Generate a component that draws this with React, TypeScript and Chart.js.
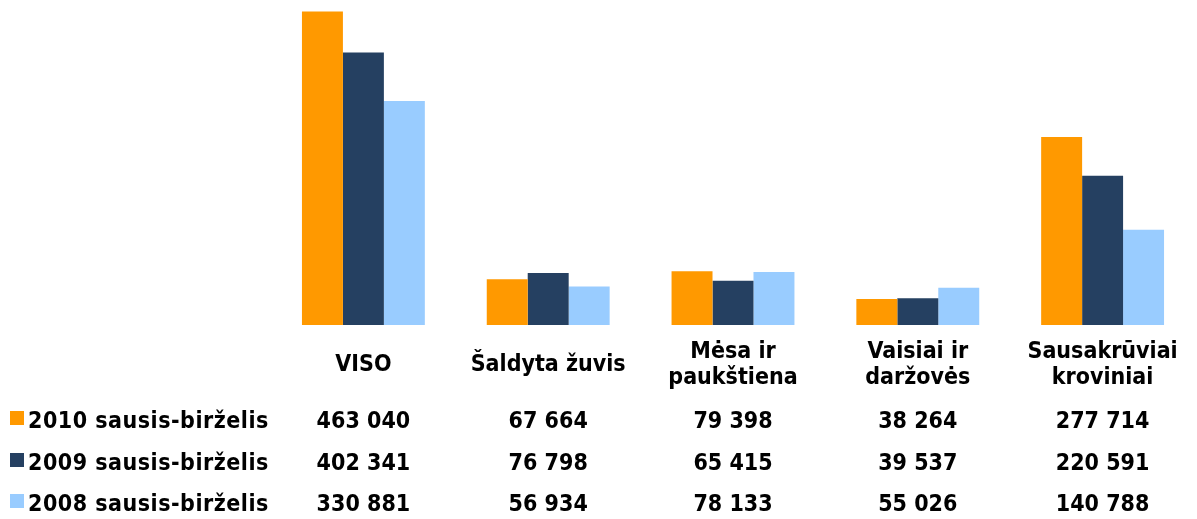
import React, { useEffect, useRef } from "react";
import { Chart, registerables } from "chart.js";

Chart.register(...registerables);

const categories: (string | string[])[] = [
  "VISO",
  "Šaldyta žuvis",
  ["Mėsa ir", "paukštiena"],
  ["Vaisiai ir", "daržovės"],
  ["Sausakrūviai", "kroviniai"],
];
const seriesNames = ["2010 sausis-birželis", "2009 sausis-birželis", "2008 sausis-birželis"];
const s2010 = [463040, 67664, 79398, 38264, 277714];
const s2009 = [402341, 76798, 65415, 39537, 220591];
const s2008 = [330881, 56934, 78133, 55026, 140788];
const colors = ["#FF9900", "#254061", "#99CCFF"];

const FONT = 'bold 23px "DejaVu Sans Condensed", "DejaVu Sans", sans-serif';

const fmt = (n: number) => n.toString().replace(/\B(?=(\d{3})+(?!\d))/g, " ");

const tablePlugin = {
  id: "dataTable",
  afterDraw(chart: any) {
    const ctx = chart.ctx as any;
    const xs = chart.scales.x;
    const series = [s2010, s2009, s2008];
    ctx.save();
    ctx.font = FONT;
    ctx.fillStyle = "#000";
    ctx.textBaseline = "middle";
    ctx.textAlign = "center";
    categories.forEach((c, i) => {
      const x = xs.getPixelForValue(i);
      if (Array.isArray(c)) {
        ctx.fillText(c[0], x, 352);
        ctx.fillText(c[1], x, 378);
      } else {
        ctx.fillText(c, x, 365);
      }
    });
    const rowY = [420, 462, 503];
    series.forEach((vals, r) => {
      ctx.fillStyle = colors[r];
      ctx.fillRect(10, rowY[r] - 9, 14, 14);
      ctx.fillStyle = "#000";
      ctx.textAlign = "left";
      ctx.letterSpacing = "0.5px";
      ctx.fillText(seriesNames[r], 28, rowY[r] + 2);
      ctx.letterSpacing = "0px";
      ctx.textAlign = "center";
      vals.forEach((v, i) => {
        ctx.fillText(fmt(v), xs.getPixelForValue(i), rowY[r] + 2);
      });
    });
    ctx.restore();
  },
};

export default function App() {
  const ref = useRef<HTMLCanvasElement>(null);
  useEffect(() => {
    if (!ref.current) return;
    const chart = new Chart(ref.current, {
      type: "bar",
      data: {
        labels: categories.map((c) => (Array.isArray(c) ? c.join(" ") : c)),
        datasets: [
          { label: seriesNames[0], data: s2010, backgroundColor: colors[0] },
          { label: seriesNames[1], data: s2009, backgroundColor: colors[1] },
          { label: seriesNames[2], data: s2008, backgroundColor: colors[2] },
        ],
      },
      options: {
        animation: false,
        responsive: false,
        maintainAspectRatio: false,
        layout: { padding: { left: 271, right: 2, top: 0, bottom: 194 } },
        datasets: { bar: { categoryPercentage: 0.665, barPercentage: 1 } },
        plugins: { legend: { display: false }, tooltip: { enabled: false } },
        scales: {
          x: { display: false, grid: { display: false } },
          y: { display: false, min: 0, max: 480000 },
        },
      },
      plugins: [tablePlugin],
    });
    return () => chart.destroy();
  }, []);
  return (
    <div style={{ position: "absolute", left: 0, top: 0, width: 1197, height: 519, background: "#fff" }}>
      <canvas ref={ref} width={1197} height={519} style={{ width: 1197, height: 519 }} />
    </div>
  );
}
